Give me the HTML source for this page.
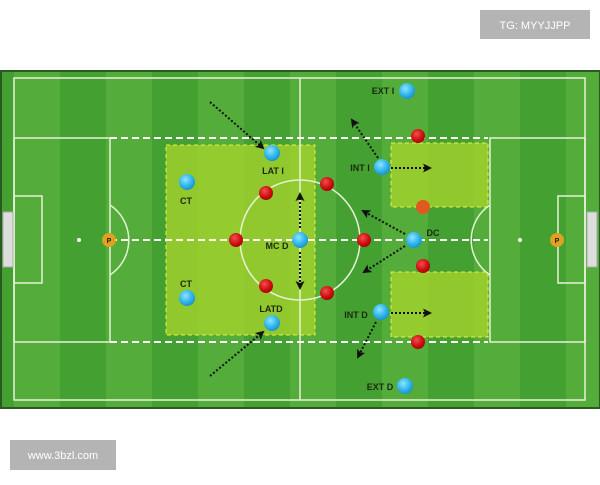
<!DOCTYPE html>
<html><head><style>body{margin:0;background:#fff;width:600px;height:480px;overflow:hidden;font-family:"Liberation Sans",sans-serif}</style></head><body>
<svg width="600" height="480" viewBox="0 0 600 480" xmlns="http://www.w3.org/2000/svg">
<defs>
<marker id="a" markerUnits="userSpaceOnUse" markerWidth="9" markerHeight="9" refX="7" refY="4.5" orient="auto"><path d="M0,0 L9,4.5 L0,9 L2,4.5 Z" fill="#111"/></marker>
<radialGradient id="b" cx="0.4" cy="0.35" r="0.7"><stop offset="0" stop-color="#8fe4ff"/><stop offset="0.6" stop-color="#2eb4ec"/><stop offset="1" stop-color="#1a8cc4"/></radialGradient>
<radialGradient id="r" cx="0.4" cy="0.35" r="0.7"><stop offset="0" stop-color="#f05050"/><stop offset="0.6" stop-color="#d01010"/><stop offset="1" stop-color="#a00000"/></radialGradient>
</defs>
<rect x="1" y="71" width="598" height="337" fill="#45a032" stroke="#2a5a22" stroke-width="2"/>
<g fill="#54ad3a">
<rect x="14" y="72" width="46" height="335"/><rect x="106" y="72" width="46" height="335"/><rect x="198" y="72" width="46" height="335"/><rect x="290" y="72" width="46" height="335"/><rect x="382" y="72" width="46" height="335"/><rect x="474" y="72" width="46" height="335"/><rect x="566" y="72" width="33" height="335"/>
</g>
<rect x="166" y="145" width="149" height="190" fill="#a4d22c" fill-opacity="0.8" stroke="#e8f040" stroke-dasharray="4,3"/>
<rect x="391" y="143" width="97" height="64" fill="#a4d22c" fill-opacity="0.8" stroke="#e8f040" stroke-dasharray="4,3"/>
<rect x="391" y="272" width="97" height="65" fill="#a4d22c" fill-opacity="0.8" stroke="#e8f040" stroke-dasharray="4,3"/>
<g fill="none" stroke="#e6f2d6" stroke-width="1.5">
<rect x="14" y="78" width="571" height="322"/>
<line x1="300" y1="78" x2="300" y2="400"/>
<circle cx="300" cy="240" r="60"/>
<rect x="14" y="138" width="96" height="204"/><rect x="490" y="138" width="95" height="204"/>
<rect x="14" y="196" width="28" height="87"/><rect x="558" y="196" width="27" height="87"/>
<path d="M110,205 A42,42 0 0 1 110,275"/><path d="M490,205 A42,42 0 0 0 490,275"/>
</g>
<rect x="3" y="212" width="10" height="55" fill="#ddd" stroke="#aaa"/><rect x="587" y="212" width="10" height="55" fill="#ddd" stroke="#aaa"/>
<circle cx="79" cy="240" r="2" fill="#fff"/><circle cx="520" cy="240" r="2" fill="#fff"/>
<g stroke="#fff" stroke-width="2" stroke-dasharray="7,4">
<line x1="110" y1="138" x2="488" y2="138"/><line x1="110" y1="240" x2="488" y2="240"/><line x1="110" y1="342" x2="488" y2="342"/>
</g>
<g stroke="#111" stroke-width="2" stroke-dasharray="2,2" marker-end="url(#a)">
<line x1="210" y1="102" x2="263" y2="148"/><line x1="210" y1="376" x2="263" y2="332"/>
<line x1="300" y1="228" x2="300" y2="194"/><line x1="300" y1="252" x2="300" y2="288"/>
<line x1="378" y1="158" x2="352" y2="120"/><line x1="391" y1="168" x2="430" y2="168"/>
<line x1="405" y1="234" x2="363" y2="211"/><line x1="405" y1="246" x2="364" y2="272"/>
<line x1="391" y1="313" x2="430" y2="313"/><line x1="376" y1="322" x2="358" y2="357"/>
</g>
<g fill="url(#r)">
<circle cx="418" cy="136" r="7"/><circle cx="327" cy="184" r="7"/><circle cx="266" cy="193" r="7"/><circle cx="236" cy="240" r="7"/><circle cx="364" cy="240" r="7"/><circle cx="266" cy="286" r="7"/><circle cx="327" cy="293" r="7"/><circle cx="423" cy="266" r="7"/><circle cx="418" cy="342" r="7"/>
</g>
<circle cx="423" cy="207" r="7" fill="#e05a20"/>
<g fill="url(#b)">
<circle cx="272" cy="153" r="8"/><circle cx="187" cy="182" r="8"/><circle cx="300" cy="240" r="8"/><circle cx="187" cy="298" r="8"/><circle cx="272" cy="323" r="8"/><circle cx="382" cy="167" r="8"/><circle cx="414" cy="240" r="8"/><circle cx="381" cy="312" r="8"/><circle cx="407" cy="91" r="8"/><circle cx="405" cy="386" r="8"/>
</g>
<circle cx="109" cy="240" r="7" fill="#e0a020"/><circle cx="557" cy="240" r="7" fill="#e0a020"/>
<g font-size="7" font-weight="bold" text-anchor="middle" fill="#222"><text x="109" y="243">P</text><text x="557" y="243">P</text></g>
<g font-size="9" font-weight="bold" fill="#1a2a10" text-anchor="middle">
<text x="186" y="204">CT</text><text x="186" y="287">CT</text><text x="273" y="174">LAT I</text><text x="277" y="249">MC D</text><text x="271" y="312">LATD</text><text x="360" y="171">INT I</text><text x="433" y="236">DC</text><text x="356" y="318">INT D</text><text x="383" y="94">EXT I</text><text x="380" y="390">EXT D</text>
</g>
<rect x="480" y="10" width="110" height="29" fill="#b4b4b4"/>
<text x="535" y="29" font-size="11" fill="#fff" text-anchor="middle">TG: MYYJJPP</text>
<rect x="10" y="440" width="106" height="30" fill="#b4b4b4"/>
<text x="63" y="459" font-size="11" fill="#fff" text-anchor="middle">www.3bzl.com</text>
</svg>
</body></html>
